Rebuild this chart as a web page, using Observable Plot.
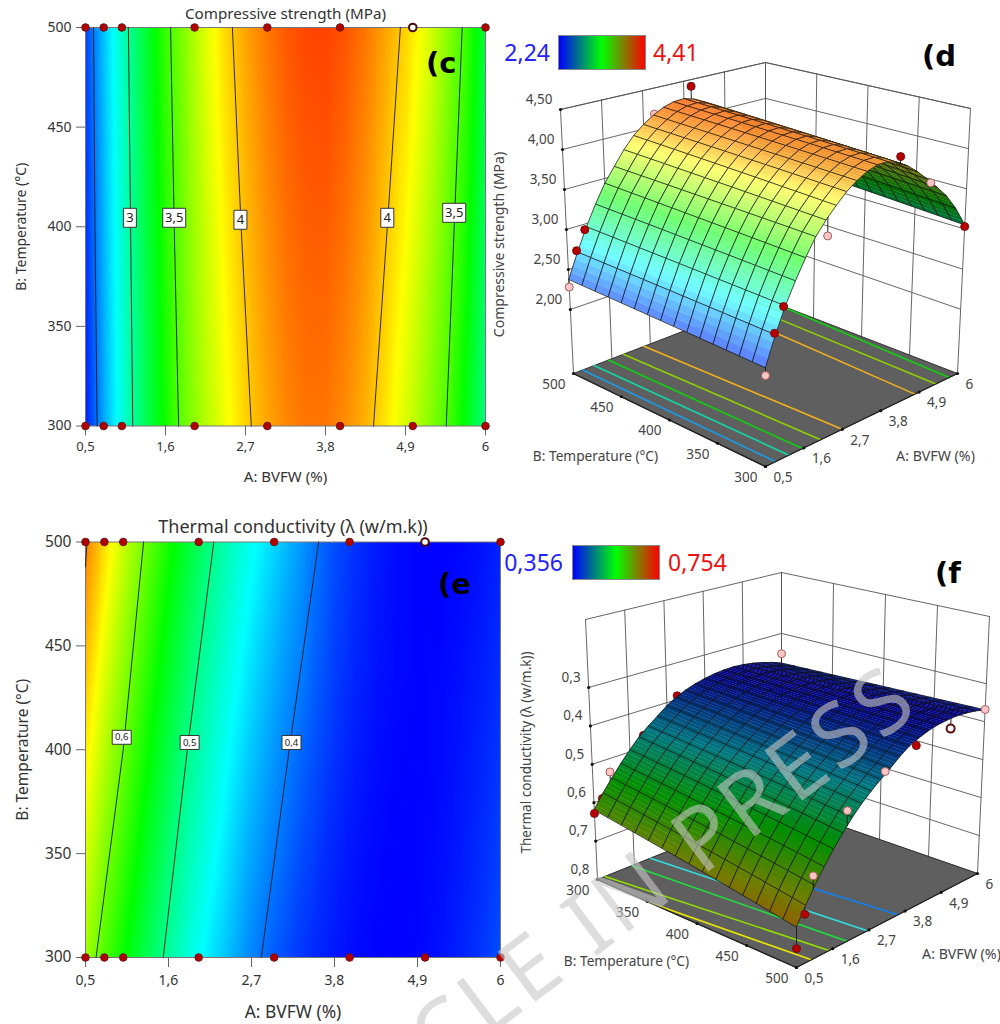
<!DOCTYPE html>
<html><head><meta charset="utf-8">
<script src="https://cdn.jsdelivr.net/npm/d3@7"></script>
<script src="https://cdn.jsdelivr.net/npm/@observablehq/plot@0.6"></script>
<style>
html,body{margin:0;padding:0;background:#fff}
#page{position:relative;width:1000px;height:1024px;overflow:hidden;font-family:"Noto Sans",sans-serif}
#page svg{position:absolute;background:transparent}
.tag{position:absolute;font:bold 29px "DejaVu Sans",sans-serif;color:#000;line-height:1}
.range{position:absolute;font-size:23px;line-height:1}
.bar{position:absolute;width:86px;height:33px;border:1px solid #888;background:linear-gradient(90deg,#0000ff,#00ff00 50%,#ff0000)}
#wm{position:absolute;white-space:nowrap;font:88px/100px "Noto Sans",sans-serif;letter-spacing:5px;color:rgba(198,198,198,.6);transform-origin:100% 50%;transform:rotate(-37deg);pointer-events:none}
</style></head><body><div id="page"></div>
<script>
const bvfwTicks=[0.5,1.6,2.7,3.8,4.9,6];
const tempTicks=[300,350,400,450,500];
const designA=[0.5,0.75,1,2,3,4,5,6];
const designT=[300,500];
const bvfwNodes=[0.5,0.775,1.05,1.325,1.6,1.875,2.15,2.425,2.7,2.975,3.25,3.525,3.8,4.075,4.35,4.625,4.9,5.175,5.45,5.725,6];
const rowTemps=[300,400,500];
const strength300=[2.30,2.62,2.90,3.14,3.36,3.56,3.71,3.84,3.96,4.05,4.12,4.16,4.16,4.11,4.03,3.92,3.79,3.65,3.50,3.30,3.05];
const strength400=[2.34,2.65,2.93,3.175,3.40,3.59,3.755,3.895,4.01,4.10,4.17,4.21,4.215,4.17,4.095,3.99,3.875,3.735,3.57,3.38,3.125];
const strength500=[2.38,2.68,2.96,3.21,3.44,3.62,3.80,3.95,4.06,4.15,4.22,4.26,4.27,4.23,4.16,4.06,3.96,3.82,3.64,3.46,3.20];
const lambda300=[.618,.583,.552,.522,.494,.468,.447,.428,.408,.393,.381,.372,.365,.360,.357,.356,.358,.362,.368,.376,.386];
const lambda400=[.662,.624,.590,.558,.528,.500,.476,.454,.434,.417,.402,.388,.376,.367,.361,.358,.357,.359,.363,.369,.377];
const lambda500=[.705,.665,.628,.594,.562,.533,.505,.481,.460,.441,.423,.403,.386,.375,.366,.360,.357,.356,.358,.362,.369];
const rainbow=["#0000ff","#00ffff","#00ff00","#ffff00","#ff0000"];
const strengthStops=[2.24,2.7825,3.325,3.8675,4.41];
const lambdaStops=[.356,.4555,.555,.6545,.754];
const strengthContours=[
 {T:[300,400,500],A:[0.66,0.63,0.61]},{T:[300,400,500],A:[1.15,1.12,1.09]},{T:[300,400,500],A:[1.78,1.72,1.67]},
 {T:[300,400,500],A:[2.78,2.64,2.52]},{T:[300,400,500],A:[4.46,4.65,4.83]},{T:[300,400,500],A:[5.46,5.57,5.68]}];
const lambdaContours=[
 {T:[488,500],A:[0.5,0.52]},{T:[300,400,500],A:[0.64,1.0,1.27]},{T:[300,400,500],A:[1.53,1.85,2.2]},{T:[300,400,500],A:[2.83,3.2,3.59]}];
const strengthLabels=[{A:1.11,T:404.5,s:"3"},{A:1.72,T:404.5,s:"3,5"},{A:2.63,T:403.5,s:"4"},{A:4.65,T:404.5,s:"4"},{A:5.57,T:407,s:"3,5"}];
const lambdaLabels=[{A:0.98,T:406,s:"0,6"},{A:1.88,T:403.5,s:"0,5"},{A:3.23,T:403.5,s:"0,4"}];
const strengthFloor=[
 {c:"#1a9ce8",a:[0.79,0.76]},{c:"#10d8a8",a:[1.17,1.09]},{c:"#10d010",a:[1.56,1.5]},{c:"#90d000",a:[2.08,1.93]},{c:"#f0b020",a:[2.7,2.52]},
 {c:"#f0b020",a:[4.78,5.0]},{c:"#90d000",a:[5.38,5.5]},{c:"#10d010",a:[5.76,6]}];
const lambdaFloor=[
 {c:"#e8e800",p:[[0.5,354],[0.95,500]]},{c:"#90e000",p:[[0.73,300],[1.49,500]]},{c:"#20e040",p:[[1.53,300],[2.04,500]]},
 {c:"#30e0e0",p:[[2.08,300],[2.65,500]]},{c:"#1080f0",p:[[2.95,300],[3.58,500]]}];
// design points of the 3-D views: A, T, response, kind, drawn-before-surface
const strengthPts=[[4,500,4.41,"r",0],[3,500,4.16,"p",1],[1,500,2.93,"r",0],[0.75,500,2.7,"r",0],[0.5,500,2.28,"p",0],[4.15,300,4.17,"r",0],
 [5,300,3.73,"p",0],[6,300,3.03,"r",0],[2.2,300,3.52,"p",0],[1,300,2.9,"r",0],[0.75,300,2.64,"r",0],[0.5,300,2.21,"p",0]];
const lambdaPts=[[6,300,.359,"p",0],[6,500,.368,"p",0],[5,500,.383,"w",0],[4,500,.392,"r",0],[3.1,500,.426,"p",0],[2,500,.484,"p",0],[1,500,.604,"p",0],
 [0.75,500,.685,"r",0],[0.5,500,.756,"r",0],[0.5,300,.628,"r",0],[0.75,300,.597,"r",1],[1,300,.535,"p",0],[2,300,.468,"r",1],[3,300,.39,"r",1]];

const page=document.getElementById("page");
const comma=v=>String(v).replace(".",",");
const surfaceFn=rows=>{const at=d3.scaleLinear().domain(rowTemps).range(rows);return (a,t)=>d3.scaleLinear().domain(bvfwNodes).range(at(t))(a);};
const boxSymbol=(w,h)=>({draw(c){c.rect(-w/2,-h/2,w,h);}});

function contourPanel(o){
  const grid=o.rows.flatMap((r,k)=>r.map((z,i)=>({A:bvfwNodes[i],T:rowTemps[k],z})));
  const dots=designT.flatMap(T=>designA.map(A=>({A,T,open:T===500&&A===5})));
  const svg=Plot.plot({
    width:o.width,height:o.height,marginLeft:85,marginRight:o.width-o.right,marginTop:o.top,marginBottom:o.height-o.bottom,
    style:{fontFamily:"Noto Sans",fontSize:o.fs+"px",color:"#333",background:"transparent",overflow:"visible"},
    x:{domain:[0.5,6],axis:null},y:{domain:[300,500],axis:null},
    color:{type:"linear",domain:o.stops,range:rainbow},
    marks:[
      Plot.raster(grid,{x:"A",y:"T",fill:"z",interpolate:"barycentric",pixelSize:1}),
      Plot.frame({stroke:"#777",strokeWidth:1}),
      ...o.contours.map(c=>Plot.line(c.A.map((a,i)=>({A:a,T:c.T[i]})),{x:"A",y:"T",stroke:"#1a1a1a",strokeWidth:0.9})),
      ...o.labels.map(l=>Plot.dot([l],{x:"A",y:"T",symbol:boxSymbol(l.s.length>1?o.boxWide:o.boxNarrow,o.boxH),fill:"#fff",stroke:"#333",strokeWidth:1})),
      Plot.text(o.labels,{x:"A",y:"T",text:"s",fontSize:o.labelFs,fill:"#222"}),
      Plot.axisX(bvfwTicks,{tickSize:10,tickPadding:o.xPad,fontSize:o.fs,stroke:"#666",tickFormat:comma,label:null}),
      Plot.axisY(tempTicks,{tickSize:9,tickPadding:5,fontSize:o.fsY,stroke:"#666",label:"B: Temperature (°C)",labelAnchor:"center",labelArrow:"none",labelOffset:o.yOff}),
      Plot.text([o.xLabel],{frameAnchor:"bottom",lineAnchor:"middle",dy:o.xOff,fontSize:o.xFs,fill:"#333"}),
      Plot.text([o.title],{frameAnchor:"top",lineAnchor:"middle",dy:o.titleDy,fontSize:o.titleFs,fill:"#333"}),
      Plot.dot(dots.filter(d=>!d.open),{x:"A",y:"T",r:3.8,fill:"#b30000",stroke:"#6a1a1a",strokeWidth:1}),
      Plot.dot(dots.filter(d=>d.open),{x:"A",y:"T",r:3.8,fill:"#fff",stroke:"#4a0d0d",strokeWidth:2})
    ]});
  svg.style.left="0px";svg.style.top=o.y+"px";page.appendChild(svg);
}

function view3D(o){
  const lerp=(p,q,t)=>[p[0]+(q[0]-p[0])*t,p[1]+(q[1]-p[1])*t];
  const bil=(c,u,v)=>lerp(lerp(c.c00,c.c10,u),lerp(c.c01,c.c11,u),v);
  const proj=(a,t,z)=>{const u=(a-.5)/5.5,v=(t-300)/200,w=(z-o.zFloor)/(o.zTop-o.zFloor);const q=lerp(bil(o.floor,u,v),bil(o.ceil,u,v),w);return {x:q[0],y:q[1]};};
  const surf=surfaceFn(o.rows);
  const lit=d3.scaleLinear().domain(o.stops).range(o.lit).clamp(true);
  const dark=d3.scaleLinear().domain(o.stops).range(o.dark).clamp(true);
  const nA=bvfwNodes.length-1,nT=15,strips=4,area=p=>d3.sum(p,(d,i)=>{const e=p[(i+1)%4];return d.x*e.y-e.x*d.y;});
  const floorSign=Math.sign(area([proj(.5,300,o.zFloor),proj(6,300,o.zFloor),proj(6,500,o.zFloor),proj(.5,500,o.zFloor)]));
  const Ts=d3.range(nT+1).map(j=>300+j*200/nT);
  const vert=(a,t)=>proj(a,t,surf(a,t));
  let cells=[];
  for(let i=0;i<nA;i++)for(let j=0;j<nT;j++){
    const a0=bvfwNodes[i],a1=bvfwNodes[i+1],t0=Ts[j],t1=Ts[j+1];
    const outline=[vert(a0,t0),vert(a1,t0),vert(a1,t1),vert(a0,t1)];
    const front=o.allDark?false:Math.sign(area(outline))===floorSign;
    const pal=front?lit:dark;
    const parts=d3.range(strips).map(s=>{
      const b0=a0+(a1-a0)*s/strips,b1=a0+(a1-a0)*(s+1)/strips;
      const zm=(surf(b0,(t0+t1)/2)+surf(b1,(t0+t1)/2))/2;
      const col=pal(zm);
      return {p:[vert(b0,t0),vert(b1,t0),vert(b1,t1),vert(b0,t1)],fill:col,stroke:col,sw:0.3};
    });
    parts.push({p:outline,fill:"none",stroke:"#161616",sw:0.75});
    cells.push({parts,depth:i/nA+(o.backT===500?j:nT-j)/nT});
  }
  cells=d3.sort(cells,d=>-d.depth);
  let gid=0;
  const cellPts=cells.flatMap(c=>c.parts.flatMap(g=>{const id=gid++;return g.p.map(q=>({x:q.x,y:q.y,id,fill:g.fill,stroke:g.stroke,sw:g.sw}));}));
  const seg=(list,stroke,w)=>Plot.line(list.flatMap((s,i)=>s.map(q=>({...q,id:i}))),{x:"x",y:"y",z:"id",stroke,strokeWidth:w});
  const walls=[];
  for(const z of [...o.zTicks,o.zTop]){
    walls.push([proj(.5,o.backT,z),proj(6,o.backT,z)]);
    walls.push([proj(6,o.backT,z),proj(6,o.frontT,z)]);
  }
  for(const a of bvfwTicks)walls.push([proj(a,o.backT,o.zFloor),proj(a,o.backT,o.zTop)]);
  for(const t of tempTicks)walls.push([proj(6,t,o.zFloor),proj(6,t,o.zTop)]);
  const floorPoly=[proj(.5,300,o.zFloor),proj(6,300,o.zFloor),proj(6,500,o.zFloor),proj(.5,500,o.zFloor)];
  const floorLines=o.floorLines.map(l=>l.p.map(([a,t])=>({...proj(a,t,o.zFloor),c:l.c})));
  const edgeFront=[[proj(.5,o.frontT,o.zFloor),proj(6,o.frontT,o.zFloor)],[proj(.5,300,o.zFloor),proj(.5,500,o.zFloor)]];
  const tTicks=tempTicks.map(t=>({...proj(.5,t,o.zFloor),s:String(t)}));
  const aTicks=bvfwTicks.map(a=>({...proj(a,o.frontT,o.zFloor),s:comma(a)}));
  const zTicks=o.zTicks.map(z=>({...proj(.5,o.backT,z),s:z.toFixed(o.dec).replace(".",",")}));
  const pts=o.pts.map(([a,t,z,k,b])=>({...proj(a,t,z),k,b,stem:[proj(a,t,z),proj(a,t,surf(a,t))]}));
  const kinds={r:{fill:"#b80000",stroke:"#701010",strokeWidth:1},p:{fill:"#ffc4c4",stroke:"#a06060",strokeWidth:1},w:{fill:"#fff",stroke:"#5a1010",strokeWidth:2}};
  const dotMarks=b=>[seg(pts.filter(d=>d.b===b).map(d=>d.stem),"#222",1),
    ...Object.entries(kinds).map(([k,s])=>Plot.dot(pts.filter(d=>d.k===k&&d.b===b),{x:"x",y:"y",r:4,...s}))];
  const T=(data,opts)=>Plot.text(data,{x:"x",y:"y",text:"s",fill:"#444",fontSize:13.5,...opts});
  const svg=Plot.plot({
    width:500,height:512,margin:0,
    style:{fontFamily:"Noto Sans",color:"#333",background:"transparent",overflow:"visible"},
    x:{domain:[500,1000],range:[0,500],axis:null},y:{domain:[o.y0,o.y0+512],range:[0,512],axis:null},
    marks:[
      seg(walls,"#555",0.9),
      Plot.line(floorPoly,{x:"x",y:"y",fill:"#5f5f5f",stroke:"#333",strokeWidth:1,curve:"linear-closed"}),
      ...floorLines.map(l=>Plot.line(l,{x:"x",y:"y",stroke:l[0].c,strokeWidth:1.6})),
      seg(edgeFront,"#222",1.2),
      Plot.dot([...tTicks,...aTicks,...zTicks],{x:"x",y:"y",r:1.6,fill:"#111"}),
      T(tTicks,{textAnchor:"end",dx:-8,dy:11}),
      T(aTicks,{textAnchor:"start",dx:8,dy:11}),
      T(zTicks,{textAnchor:"end",dx:-8,dy:-10}),
      Plot.text([o.tTitle],{x:o.tTitlePos[0],y:o.tTitlePos[1],fontSize:13.7,fill:"#444"}),
      Plot.text([o.aTitle],{x:o.aTitlePos[0],y:o.aTitlePos[1],fontSize:14.2,fill:"#444"}),
      Plot.text([o.zTitle],{x:o.zTitlePos[0],y:o.zTitlePos[1],rotate:-90,fontSize:o.zFs,fill:"#444"}),
      ...dotMarks(1),
      Plot.line(cellPts,{x:"x",y:"y",z:"id",fill:"fill",stroke:"stroke",strokeWidth:"sw",curve:"linear-closed"}),
      ...dotMarks(0)
    ]});
  svg.style.left="500px";svg.style.top=o.y0+"px";page.appendChild(svg);
}

view3D({y0:0,rows:[strength300,strength400,strength500],stops:strengthStops,
  lit:["#5a6aff","#70ffff","#70ff70","#ffff70","#ff4a10"],dark:["#000080","#007880","#006f00","#607000","#a04000"],
  zFloor:1.2,zTop:4.5,zTicks:[2,2.5,3,3.5,4,4.5],dec:2,frontT:300,backT:500,
  floor:{c00:[765,466],c01:[573,373],c11:[765,299],c10:[957,373]},ceil:{c00:[765,169],c01:[560,109],c11:[765,62],c10:[970,108]},
  floorLines:strengthFloor.map(l=>({c:l.c,p:[[l.a[0],300],[l.a[1],500]]})),pts:strengthPts,
  tTitle:"B: Temperature (°C)",tTitlePos:[595,456],aTitle:"A: BVFW (%)",aTitlePos:[935,456],zTitle:"Compressive strength (MPa)",zFs:14,zTitlePos:[499,244]});
view3D({y0:512,rows:[lambda300,lambda400,lambda500],stops:lambdaStops,allDark:true,
  lit:rainbow,dark:["#000080","#007880","#009000","#708000","#b04000"],
  zFloor:.8,zTop:.123,zTicks:[.3,.4,.5,.6,.7,.8],dec:1,frontT:500,backT:300,
  floor:{c00:[597,879],c01:[796,967],c11:[977,873],c10:[781,805]},ceil:{c00:[585,619],c01:[796,677],c11:[989,616],c10:[781,572]},
  floorLines:lambdaFloor,pts:lambdaPts,
  tTitle:"B: Temperature (°C)",tTitlePos:[626,961],aTitle:"A: BVFW (%)",aTitlePos:[961,954],zTitle:"Thermal conductivity (λ (w/m.k))",zFs:13.5,zTitlePos:[526,752]});
contourPanel({y:0,width:500,height:500,right:485,top:27,bottom:425.5,rows:[strength300,strength400,strength500],stops:strengthStops,
  contours:strengthContours,labels:strengthLabels,title:"Compressive strength (MPa)",titleFs:15.2,titleDy:-13,xLabel:"A: BVFW (%)",xFs:15,fs:13,fsY:14,labelFs:13,boxNarrow:13,boxWide:23,boxH:19,xOff:51.5,xPad:6,yOff:69});
contourPanel({y:512,width:510,height:512,right:500,top:29.5,bottom:445,rows:[lambda300,lambda400,lambda500],stops:lambdaStops,
  contours:lambdaContours,labels:lambdaLabels,title:"Thermal conductivity (λ (w/m.k))",titleFs:18,titleDy:-14.5,xLabel:"A: BVFW (%)",xFs:17.4,fs:14,fsY:15.5,labelFs:9.5,boxNarrow:18,boxWide:19,boxH:14,xOff:55,xPad:8,yOff:69});

const html=(cls,txt,css)=>{const e=document.createElement("div");e.className=cls;e.textContent=txt;e.style.cssText=css;page.appendChild(e);};
html("tag","(c","left:426px;top:49px");html("tag","(d","left:922px;top:42px");html("tag","(e","left:438px;top:570px");html("tag","(f","left:935px;top:559px");
html("bar","","left:558px;top:35px");html("bar","","left:572px;top:545px");
html("range","2,24","right:450px;top:41px;color:#2222ff");html("range","4,41","left:653px;top:41px;color:#f01010");
html("range","0,356","right:437px;top:551px;color:#2222ff");html("range","0,754","left:668px;top:551px;color:#f01010");
const wm=document.createElement("div");wm.id="wm";wm.textContent="ARTICLE IN PRESS";wm.style.cssText="right:97px;top:632px";page.appendChild(wm);
</script></body></html>
